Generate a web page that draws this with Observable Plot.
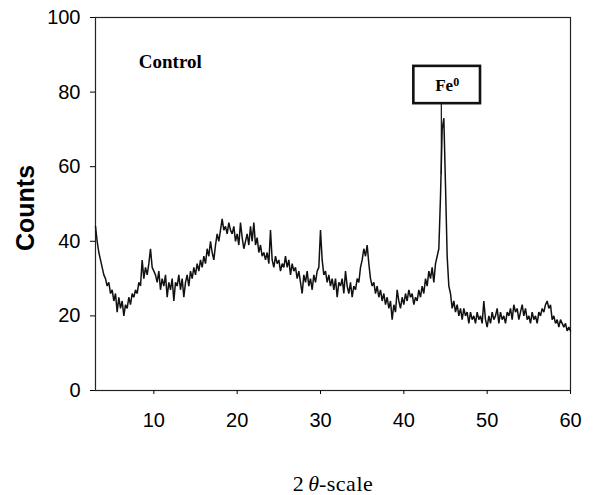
<!DOCTYPE html>
<html><head><meta charset="utf-8">
<script src="https://cdn.jsdelivr.net/npm/d3@7"></script>
<script src="https://cdn.jsdelivr.net/npm/@observablehq/plot@0.6"></script>
<style>body{margin:0;background:#fff}</style>
</head><body><div id="chart"></div><script>
// XRD pattern: 2θ from 3.0 to 60.0 in 0.2° steps
const startAngle = 3.0;
const angleStep = 0.2;
const counts = [
  44,40,37,35,33,31,30,28,29,26,
  27,24,26,21,25,22,24,20,23,22,
  25,23,26,25,27,26,29,28,35,30,
  33,31,34,38,33,32,31,29,32,27,
  30,28,31,25,29,27,30,24,29,28,
  31,27,30,25,29,31,28,32,30,33,
  31,34,32,35,33,36,34,38,36,40,
  37,35,39,42,40,43,46,43,44,42,
  45,43,42,44,40,42,39,45,41,38,
  40,42,39,44,40,45,39,41,37,39,
  36,37,35,37,34,43,35,33,36,34,
  35,32,34,33,36,33,35,31,34,32,
  33,30,32,29,26,31,29,32,28,30,
  27,31,29,32,33,43,35,31,32,29,
  31,28,30,27,30,25,29,28,30,26,
  32,28,26,29,25,28,27,30,29,33,
  35,38,36,39,34,30,28,29,26,28,
  25,27,24,26,23,25,22,24,19,23,
  21,27,24,22,25,23,26,24,27,25,
  26,23,25,24,27,25,28,26,30,28,
  32,30,33,29,34,36,38,52,70,73,
  55,36,28,26,22,24,21,23,20,22,
  19,22,20,21,18,21,19,20,18,21,
  19,20,18,24,19,17,20,18,21,19,
  20,22,18,21,19,20,18,21,20,22,
  19,23,21,22,19,21,23,20,22,19,
  20,18,21,19,20,18,21,20,22,21,
  23,24,22,23,19,20,18,19,17,19,
  18,17,18,16,17,16
];
const xTicks = [10, 20, 30, 40, 50, 60];
const yTicks = [0, 20, 40, 60, 80, 100];
const xDomain = [3, 60];
const yDomain = [0, 100];
const sampleName = "Control";
const sampleLabelAt = [8.2, 88];
const peakName = "Fe⁰";
const peakLabelAt = [45.2, 81.8];
const peakBoxX = [41.2, 49.2];
const peakBoxY = [76.9, 86.9];
const peakPointerX = [44.5];
const peakPointerY = [78.3, 58];
const xTitle = "2θ-scale";
const yTitle = "Counts";

const pattern = counts.map((c, i) => ({angle: +(startAngle + angleStep * i).toFixed(1), count: c}));

const chart = Plot.plot({
  width: 597, height: 495,
  marginLeft: 95, marginRight: 27, marginTop: 17, marginBottom: 105,
  style: {fontFamily: "'Liberation Sans', Arial, sans-serif", fontSize: "20px", color: "#000", background: "#fff", overflow: "visible"},
  x: {domain: xDomain},
  y: {domain: yDomain},
  marks: [
    Plot.frame({stroke: "#222", strokeWidth: 1.2}),
    Plot.axisX({ticks: xTicks, tickSize: 4, tickPadding: 18, label: null}),
    Plot.axisY({ticks: yTicks, tickSize: 5, tickPadding: 10, label: null}),
    Plot.lineY(pattern, {x: "angle", y: "count", stroke: "#111", strokeWidth: 1.5, strokeLinejoin: "miter"}),
    Plot.ruleX(peakPointerX, {y1: peakPointerY[0], y2: peakPointerY[1], stroke: "#111", strokeWidth: 1.2}),
    Plot.rect([{x1: peakBoxX[0], x2: peakBoxX[1], y1: peakBoxY[0], y2: peakBoxY[1]}],
      {x1: "x1", x2: "x2", y1: "y1", y2: "y2", fill: "white", stroke: "#111", strokeWidth: 2.6}),
    Plot.text([{x: peakLabelAt[0], y: peakLabelAt[1], t: peakName}],
      {x: "x", y: "y", text: "t", fontFamily: "'Liberation Serif', serif", fontWeight: "bold", fontSize: 17, textAnchor: "middle"}),
    Plot.text([{x: sampleLabelAt[0], y: sampleLabelAt[1], t: sampleName}],
      {x: "x", y: "y", text: "t", fontFamily: "'Liberation Serif', serif", fontWeight: "bold", fontSize: 19, textAnchor: "start"}),
    Plot.text([yTitle], {frameAnchor: "left", rotate: -90, dx: -70, dy: 4, textAnchor: "middle", lineAnchor: "middle", fontWeight: "bold", fontSize: 25}),
    Plot.text([xTitle], {frameAnchor: "bottom", dy: 93, textAnchor: "middle", lineAnchor: "middle", fontFamily: "'Liberation Serif', serif", fontSize: 22})
  ]
});
document.getElementById("chart").append(chart);

// rich text: superscript zero, italic theta
d3.select(chart).selectAll("text").each(function() {
  const t = d3.select(this);
  const s = this.textContent;
  if (s === peakName) {
    t.text("");
    t.append("tspan").text("Fe");
    t.append("tspan").attr("dy", "-0.42em").attr("font-size", "12px").text("0");
  } else if (s === xTitle) {
    t.text("");
    t.append("tspan").text("2\u2009");
    t.append("tspan").attr("font-style", "italic").text("θ");
    t.append("tspan").attr("letter-spacing", "0.5px").text("-scale");
  }
});
</script></body></html>
